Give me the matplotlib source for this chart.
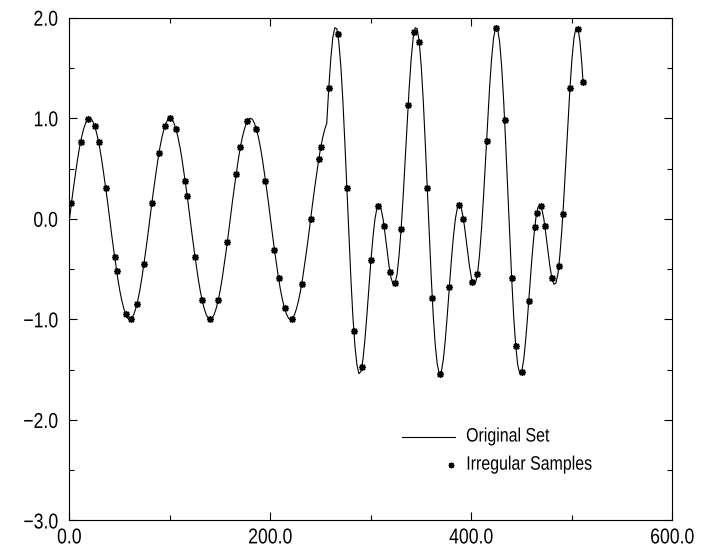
import numpy as np
import matplotlib
matplotlib.use("Agg")
import matplotlib.pyplot as plt
from matplotlib import font_manager
from matplotlib.patheffects import AbstractPathEffect
from matplotlib.path import Path
from matplotlib.transforms import Affine2D
from matplotlib.ticker import MultipleLocator, FuncFormatter

# ---- data -------------------------------------------------------------
# Original set, sampled every 2 units from 0 to 510, plus the last point at 511
line_x = list(range(0, 512, 2)) + [511]
line_y = [
    # 0 .. 78
    0.00, 0.16, 0.31, 0.45, 0.59, 0.71, 0.81, 0.89, 0.95, 0.99,
    1.00, 0.99, 0.95, 0.89, 0.81, 0.71, 0.59, 0.45, 0.31, 0.16,
    0.00, -0.16, -0.31, -0.45, -0.59, -0.71, -0.81, -0.89, -0.95, -0.99,
    -1.00, -0.99, -0.95, -0.89, -0.81, -0.71, -0.59, -0.45, -0.31, -0.16,
    # 80 .. 158
    0.00, 0.16, 0.31, 0.45, 0.59, 0.71, 0.81, 0.89, 0.95, 0.99,
    1.00, 0.99, 0.95, 0.89, 0.81, 0.71, 0.59, 0.45, 0.31, 0.16,
    0.00, -0.16, -0.31, -0.45, -0.59, -0.71, -0.81, -0.89, -0.95, -0.99,
    -1.00, -0.99, -0.95, -0.89, -0.81, -0.71, -0.59, -0.45, -0.31, -0.16,
    # 160 .. 238
    0.00, 0.16, 0.31, 0.45, 0.59, 0.71, 0.81, 0.89, 0.95, 0.99,
    1.00, 0.99, 0.95, 0.89, 0.81, 0.71, 0.59, 0.45, 0.31, 0.16,
    0.00, -0.16, -0.31, -0.45, -0.59, -0.71, -0.81, -0.89, -0.95, -0.99,
    -1.00, -0.99, -0.95, -0.89, -0.81, -0.71, -0.59, -0.45, -0.31, -0.16,
    # 240 .. 254
    0.00, 0.16, 0.31, 0.45, 0.59, 0.71, 0.81, 0.89,
    # 256 .. 334
    0.95, 1.30, 1.59, 1.80, 1.90, 1.89, 1.76, 1.52, 1.18, 0.76,
    0.31, -0.15, -0.59, -0.97, -1.26, -1.45, -1.54, -1.52, -1.40, -1.20,
    -0.95, -0.68, -0.41, -0.18, 0.00, 0.11, 0.14, 0.10, 0.00, -0.15,
    -0.31, -0.47, -0.59, -0.65, -0.64, -0.55, -0.36, -0.10, 0.22, 0.58,
    # 336 .. 414
    0.95, 1.30, 1.59, 1.80, 1.90, 1.89, 1.76, 1.52, 1.18, 0.76,
    0.31, -0.15, -0.59, -0.97, -1.26, -1.45, -1.54, -1.52, -1.40, -1.20,
    -0.95, -0.68, -0.41, -0.18, 0.00, 0.11, 0.14, 0.10, 0.00, -0.15,
    -0.31, -0.47, -0.59, -0.65, -0.64, -0.55, -0.36, -0.10, 0.22, 0.58,
    # 416 .. 494
    0.95, 1.30, 1.59, 1.80, 1.90, 1.89, 1.76, 1.52, 1.18, 0.76,
    0.31, -0.15, -0.59, -0.97, -1.26, -1.45, -1.54, -1.52, -1.40, -1.20,
    -0.95, -0.68, -0.41, -0.18, 0.00, 0.11, 0.14, 0.10, 0.00, -0.15,
    -0.31, -0.47, -0.59, -0.65, -0.64, -0.55, -0.36, -0.10, 0.22, 0.58,
    # 496 .. 510, 511
    0.95, 1.30, 1.59, 1.80, 1.90, 1.89, 1.76, 1.52,
    1.36,
]

# Irregular samples taken from the set
sample_x = [2, 11, 18, 25, 29, 36, 45, 47, 56, 61,
            67, 74, 82, 89, 95, 100, 106, 115, 117, 125,
            132, 140, 148, 157, 166, 170, 177, 186, 195, 204,
            208, 214, 221, 231, 240, 248, 250, 258, 267, 276,
            283, 291, 300, 307, 313, 319, 324, 330, 337, 343,
            348, 356, 361, 369, 378, 388, 392, 401, 406, 415,
            424, 433, 440, 444, 450, 457, 463, 465, 469, 473,
            480, 487, 491, 498, 506, 511]
sample_y = [0.16, 0.76, 0.99, 0.92, 0.76, 0.31, -0.38, -0.52, -0.95, -1.00,
            -0.85, -0.45, 0.16, 0.65, 0.92, 1.00, 0.89, 0.38, 0.23, -0.38,
            -0.81, -1.00, -0.81, -0.23, 0.45, 0.71, 0.97, 0.89, 0.38, -0.31,
            -0.59, -0.89, -1.00, -0.65, 0.00, 0.59, 0.71, 1.30, 1.84, 0.31,
            -1.12, -1.47, -0.41, 0.13, -0.07, -0.53, -0.64, -0.10, 1.13, 1.86,
            1.76, 0.31, -0.79, -1.54, -0.68, 0.14, 0.00, -0.63, -0.55, 0.77,
            1.90, 0.98, -0.59, -1.26, -1.52, -0.82, -0.08, 0.06, 0.13, -0.07,
            -0.59, -0.47, 0.05, 1.30, 1.89, 1.36]

legend_labels = ["Original Set", "Irregular Samples"]


# ---- narrow lettering -------------------------------------------------
class Condense(AbstractPathEffect):
    """Squeeze a text path horizontally about its left, centre or right edge."""

    def __init__(self, factor, anchor="center"):
        super().__init__()
        self.factor = factor
        self.anchor = anchor

    def draw_path(self, renderer, gc, tpath, affine, rgbFace=None):
        verts = tpath.vertices
        if tpath.codes is not None:
            verts = verts[tpath.codes != Path.CLOSEPOLY]
        xs = affine.transform(verts)[:, 0] if len(verts) else np.array([0.0])
        if self.anchor == "right":
            cx = xs.max()
        elif self.anchor == "left":
            cx = xs.min()
        else:
            cx = 0.5 * (xs.min() + xs.max())
        squeeze = Affine2D().translate(-cx, 0).scale(self.factor, 1).translate(cx, 0)
        renderer.draw_path(gc, tpath, affine + squeeze, rgbFace)


installed = {f.name for f in font_manager.fontManager.ttflist}
if "Liberation Sans Narrow" in installed:
    family, squeeze = "Liberation Sans Narrow", 1.0
else:
    family, squeeze = "Liberation Sans", 0.82
plt.rcParams["font.family"] = [family, "DejaVu Sans"]
tick_size, legend_size = 15.5, 14


def one_decimal(v, _pos):
    return f"{v:.1f}".replace("-", "\u2212")


# ---- figure -----------------------------------------------------------
fig = plt.figure(figsize=(7.04, 5.54), dpi=100)
ax = fig.add_axes([0.0987, 0.0605, 0.8565, 0.9076])

sample_marker = (8, 2, 0)
ax.plot(line_x, line_y, color="black", lw=0.8, solid_joinstyle="round")
ax.plot(sample_x, sample_y, ls="none", marker=sample_marker, ms=5,
        mew=1.0, color="black")

ax.set_xlim(0, 600)
ax.set_ylim(-3, 2)
ax.xaxis.set_major_locator(MultipleLocator(200))
ax.xaxis.set_minor_locator(MultipleLocator(100))
ax.yaxis.set_major_locator(MultipleLocator(1))
ax.yaxis.set_minor_locator(MultipleLocator(0.5))
ax.xaxis.set_major_formatter(FuncFormatter(one_decimal))
ax.yaxis.set_major_formatter(FuncFormatter(one_decimal))

ax.tick_params(which="both", direction="in", top=True, right=True,
               color="black", width=0.8)
ax.tick_params(which="major", length=6)
ax.tick_params(which="minor", length=3.5)
ax.tick_params(axis="y", which="major", pad=8, labelsize=tick_size)
ax.tick_params(axis="x", which="major", pad=5, labelsize=tick_size)
for s in ax.spines.values():
    s.set_linewidth(0.8)
    s.set_color("black")

# ---- legend (drawn in axes coordinates) --------------------------------
ax.plot([0.5514, 0.639], [0.166, 0.166], transform=ax.transAxes,
        color="black", lw=0.8)
t1 = ax.text(0.6575, 0.166, legend_labels[0], transform=ax.transAxes,
             ha="left", va="center", fontsize=legend_size)
ax.plot([0.6327], [0.110], transform=ax.transAxes, ls="none",
        marker=sample_marker, ms=4, mew=0.9, color="black")
t2 = ax.text(0.6575, 0.110, legend_labels[1], transform=ax.transAxes,
             ha="left", va="center", fontsize=legend_size)

fig.canvas.draw()
if squeeze != 1.0:
    for lab in ax.get_xticklabels():
        lab.set_path_effects([Condense(squeeze, "center")])
    for lab in ax.get_yticklabels():
        lab.set_path_effects([Condense(squeeze, "right")])
    for lab in (t1, t2):
        lab.set_path_effects([Condense(squeeze, "left")])

fig.savefig("out.png", dpi=100)
